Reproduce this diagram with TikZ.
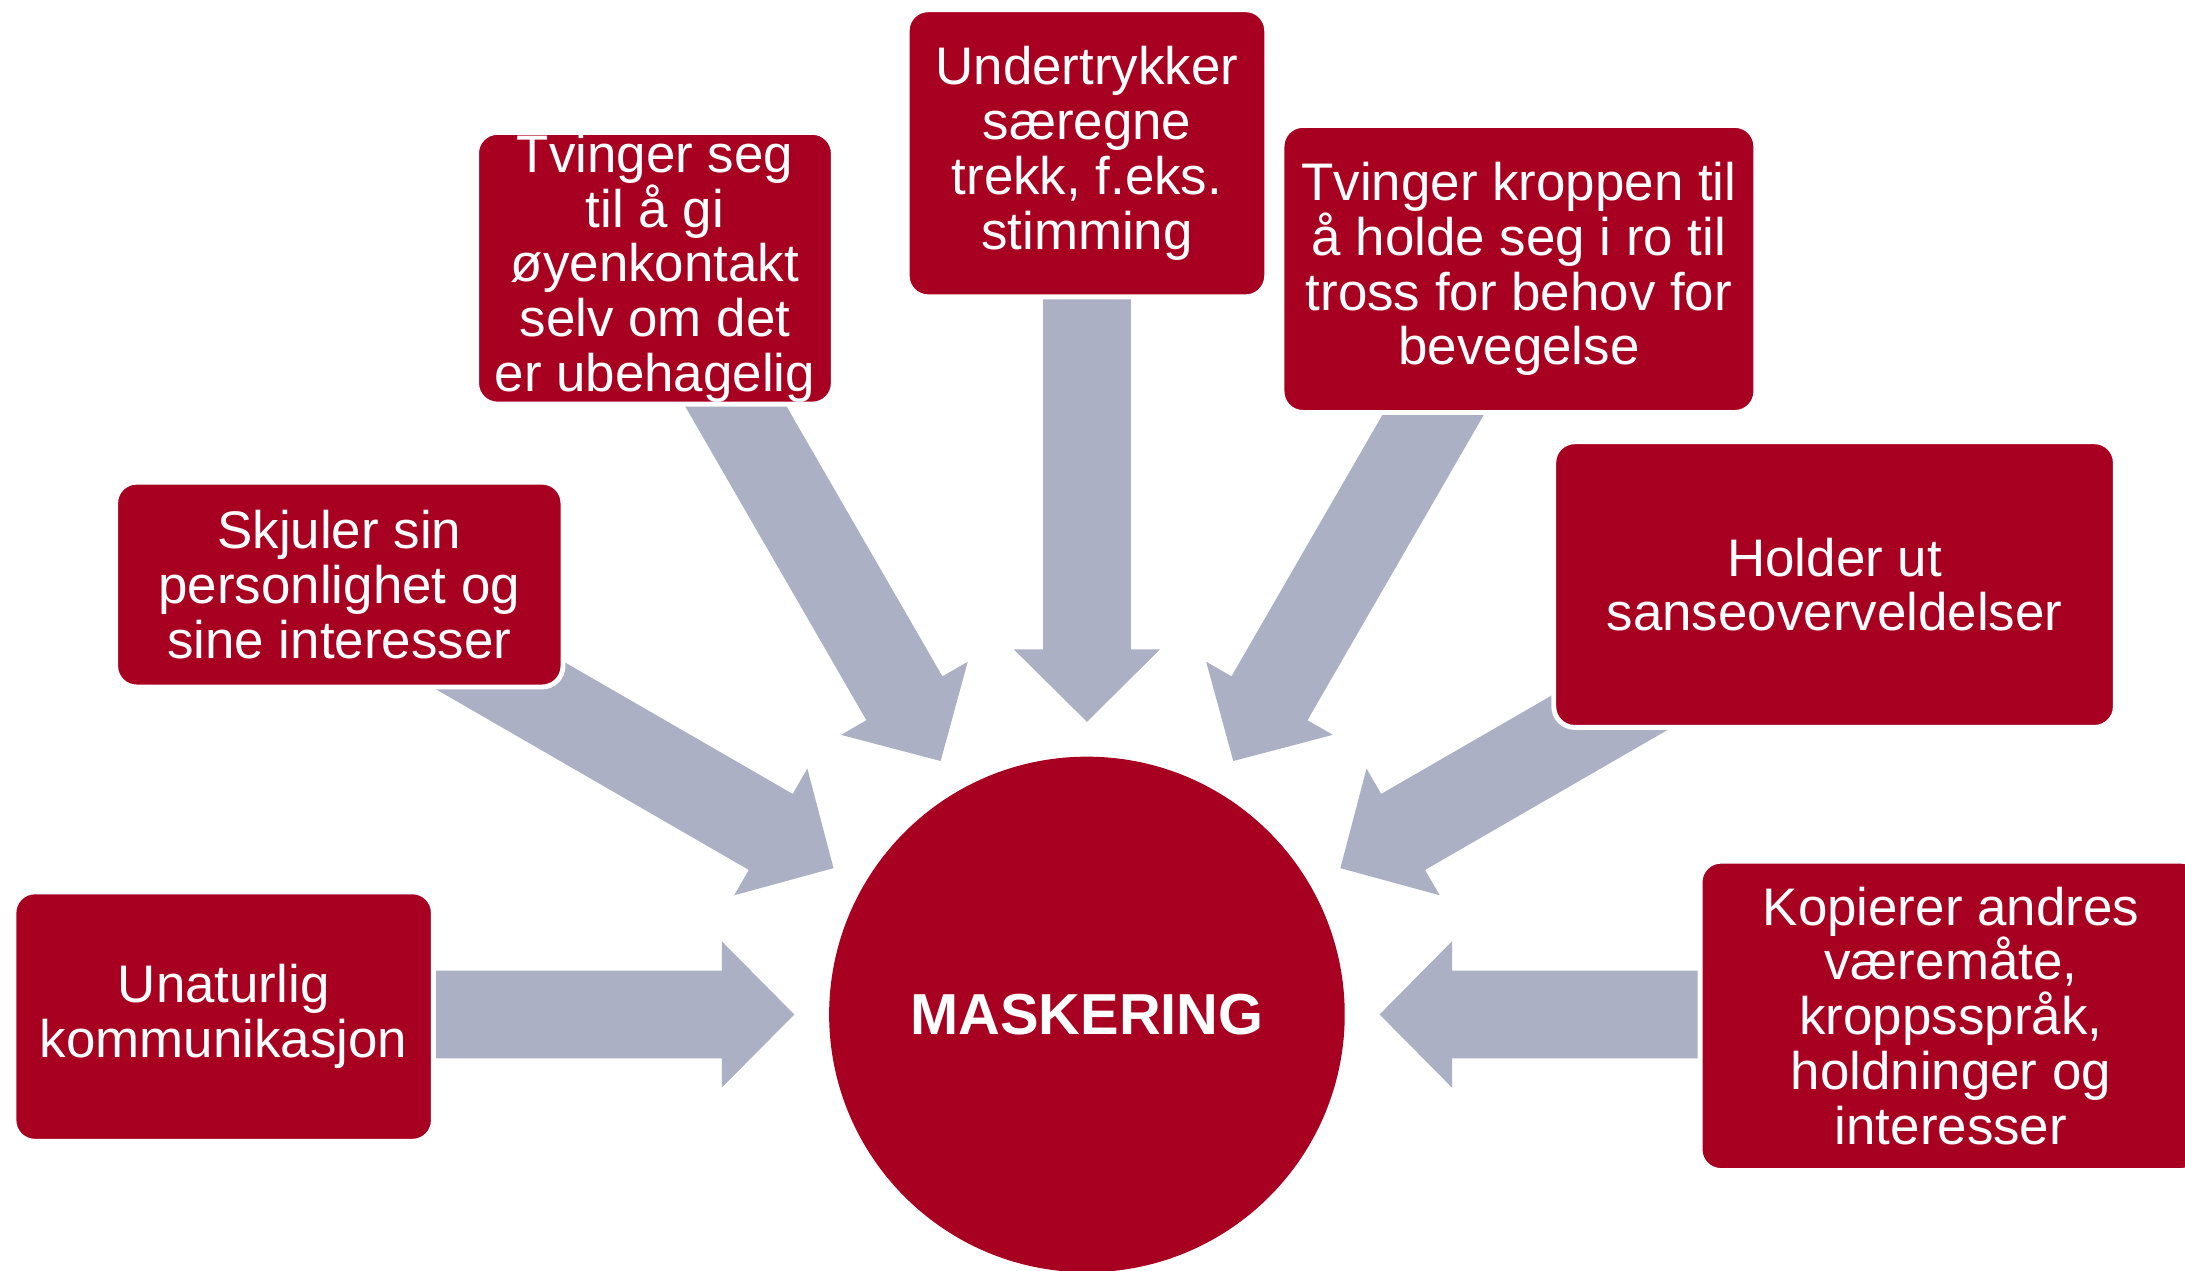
\documentclass[tikz,border=0pt]{standalone}
\usepackage{fontspec}
\setmainfont{Liberation Sans}
\definecolor{maskrod}{RGB}{168,0,32}
\definecolor{pilgraa}{RGB}{171,176,196}

\begin{document}
\begin{tikzpicture}[
    boks/.style={fill=maskrod, draw=white, line width=1pt, rounded corners=0.15cm,
      text=white, align=center, inner sep=0pt, font=\fontsize{10.8}{11.2}\selectfont},
    sirkel/.style={circle, fill=maskrod, text=white, inner sep=0pt,
      minimum size=3.7cm, font=\fontsize{11.8}{14}\selectfont\bfseries},
    pil/.style={fill=pilgraa}]
  \useasboundingbox (0,0) rectangle (15.68,9.12);

  \node[sirkel] (mask) at (7.80,1.84) {MASKERING};

  % arrows pointing in at the circle
  \foreach \a/\l in {180/4.9, 150/5.4, 120/5.4, 90/5.4, 60/5.3, 30/4.8, 0/4.8} {
    \begin{scope}[shift={(mask.center)}, rotate=\a]
      \fill[pil] (2.1,0) -- (2.62,0.525) -- (2.62,0.315) -- (\l,0.315)
        -- (\l,-0.315) -- (2.62,-0.315) -- (2.62,-0.525) -- cycle;
    \end{scope}
  }

  \node[boks, minimum width=3.01cm, minimum height=1.79cm] (unaturlig) at (1.605,1.825)
    {Unaturlig\\kommunikasjon};
  \node[boks, minimum width=3.21cm, minimum height=1.47cm] (skjuler) at (2.435,4.925)
    {Skjuler sin\\personlighet og\\sine interesser};
  \node[boks, minimum width=2.56cm, minimum height=1.95cm] (oyekontakt) at (4.70,7.195)
    {Tvinger seg\\til å gi\\øyenkontakt\\selv om det\\er ubehagelig};
  \node[boks, minimum width=2.58cm, minimum height=2.06cm] (undertrykker) at (7.80,8.02)
    {Undertrykker\\særegne\\trekk, f.eks.\\stimming};
  \node[boks, minimum width=3.40cm, minimum height=2.06cm] (ro) at (10.90,7.19)
    {Tvinger kroppen til\\å holde seg i ro til\\tross for behov for\\bevegelse};
  \node[boks, minimum width=4.03cm, minimum height=2.05cm] (sanse) at (13.165,4.925)
    {Holder ut\\sanseoverveldelser};
  \node[boks, minimum width=3.60cm, minimum height=2.22cm] (kopierer) at (14.00,1.83)
    {Kopierer andres\\væremåte,\\kroppsspråk,\\holdninger og\\interesser};
\end{tikzpicture}
\end{document}
